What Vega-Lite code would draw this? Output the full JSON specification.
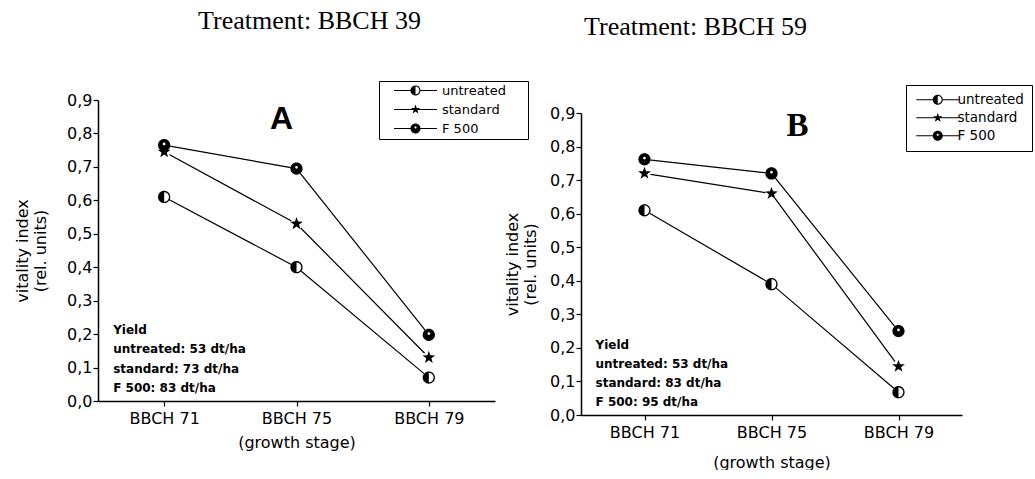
{
  "$schema": "https://vega.github.io/schema/vega-lite/v6.json",
  "background": "white",
  "padding": {"left": 14, "top": 7, "right": 0, "bottom": 0},
  "spacing": -25,
  "resolve": {"scale": {"shape": "independent"}, "legend": {"shape": "independent"}},
  "datasets": {
    "a": [
      {"stage": "BBCH 71", "series": "untreated", "v": 0.61},
      {"stage": "BBCH 75", "series": "untreated", "v": 0.4},
      {"stage": "BBCH 79", "series": "untreated", "v": 0.07},
      {"stage": "BBCH 71", "series": "standard", "v": 0.745},
      {"stage": "BBCH 75", "series": "standard", "v": 0.53},
      {"stage": "BBCH 79", "series": "standard", "v": 0.13},
      {"stage": "BBCH 71", "series": "F 500", "v": 0.765},
      {"stage": "BBCH 75", "series": "F 500", "v": 0.695},
      {"stage": "BBCH 79", "series": "F 500", "v": 0.198}
    ],
    "b": [
      {"stage": "BBCH 71", "series": "untreated", "v": 0.61},
      {"stage": "BBCH 75", "series": "untreated", "v": 0.39},
      {"stage": "BBCH 79", "series": "untreated", "v": 0.068},
      {"stage": "BBCH 71", "series": "standard", "v": 0.72},
      {"stage": "BBCH 75", "series": "standard", "v": 0.66},
      {"stage": "BBCH 79", "series": "standard", "v": 0.145},
      {"stage": "BBCH 71", "series": "F 500", "v": 0.762},
      {"stage": "BBCH 75", "series": "F 500", "v": 0.72},
      {"stage": "BBCH 79", "series": "F 500", "v": 0.25}
    ],
    "notesA": [
      {"stage": "BBCH 71", "v": 0, "lines": ["Yield", "untreated: 53 dt/ha", "standard: 73 dt/ha", "F 500: 83 dt/ha"]}
    ],
    "notesB": [
      {"stage": "BBCH 71", "v": 0, "lines": ["Yield", "untreated: 53 dt/ha", "standard: 83 dt/ha", "F 500: 95 dt/ha"]}
    ],
    "tagA": [{"stage": "BBCH 75", "v": 0.9, "tag": "A"}],
    "tagB": [{"stage": "BBCH 75", "v": 0.9, "tag": "B"}]
  },
  "hconcat": [
    {
      "width": 397,
      "height": 301,
      "title": {"text": "Treatment: BBCH 39", "anchor": "start", "frame": "group", "dx": 100, "offset": 47},
      "data": {"name": "a"},
      "encoding": {
        "x": {"field": "stage", "type": "ordinal", "sort": ["BBCH 71", "BBCH 75", "BBCH 79"],
              "scale": {"type": "point", "padding": 0.5},
              "axis": {"title": "(growth stage)", "labelAngle": 0, "labelPadding": 4, "titlePadding": 8}},
        "y": {"field": "v", "type": "quantitative", "scale": {"domain": [0, 0.9], "nice": false},
              "axis": {"values": [0, 0.1, 0.2, 0.3, 0.4, 0.5, 0.6, 0.7, 0.8, 0.9],
                       "labelExpr": "replace(format(datum.value, '.1f'), '.', ',')",
                       "title": ["vitality index", "(rel. units)"], "titleLineHeight": 18, "titlePadding": 18, "labelPadding": 1}}
      },
      "layer": [
        {"mark": {"type": "line", "color": "black", "strokeWidth": 1.2}, "encoding": {"detail": {"field": "series"}}},
        {"mark": {"type": "point", "shape": "circle", "filled": true, "color": "white", "opacity": 1, "size": 150}},
        {"transform": [{"filter": "datum.series === 'untreated'"}],
         "mark": {"type": "point", "filled": true, "color": "black", "opacity": 1, "size": 150,
                  "shape": "M-1,0A1,1,0,1,1,1,0A1,1,0,1,1,-1,0ZM-0.78,0A0.78,0.78,0,1,0,0.78,0A0.78,0.78,0,1,0,-0.78,0ZM0,-0.8L0,0.8A0.8,0.8,0,0,1,0,-0.8Z"}},
        {"transform": [{"filter": "datum.series === 'standard'"}],
         "mark": {"type": "point", "filled": true, "color": "black", "opacity": 1, "size": 180,
                  "shape": "M0,-1L0.235,-0.324L0.951,-0.309L0.38,0.124L0.588,0.809L0,0.4L-0.588,0.809L-0.38,0.124L-0.951,-0.309L-0.235,-0.324Z"}},
        {"transform": [{"filter": "datum.series === 'F 500'"}],
         "mark": {"type": "point", "filled": true, "color": "black", "opacity": 1, "size": 150,
                  "shape": "M-1,0A1,1,0,1,1,1,0A1,1,0,1,1,-1,0ZM-0.22,-0.2A0.22,0.22,0,1,0,0.22,-0.2A0.22,0.22,0,1,0,-0.22,-0.2Z"}},
        {"mark": {"type": "point", "filled": true, "color": "black", "opacity": 0},
         "encoding": {"shape": {"field": "series", "type": "nominal",
           "scale": {"domain": ["untreated", "standard", "F 500"],
                     "range": [
                       "M-1,0A1,1,0,1,1,1,0A1,1,0,1,1,-1,0ZM-0.78,0A0.78,0.78,0,1,0,0.78,0A0.78,0.78,0,1,0,-0.78,0ZM0,-0.8L0,0.8A0.8,0.8,0,0,1,0,-0.8ZM-4.3,-0.1L-0.97,-0.1L-0.97,0.1L-4.3,0.1ZM0.97,-0.1L4.3,-0.1L4.3,0.1L0.97,0.1Z",
                       "M0,-1L0.235,-0.324L0.951,-0.309L0.38,0.124L0.588,0.809L0,0.4L-0.588,0.809L-0.38,0.124L-0.951,-0.309L-0.235,-0.324ZM-4.3,-0.1L-0.5,-0.1L-0.5,0.1L-4.3,0.1ZM0.5,-0.1L4.3,-0.1L4.3,0.1L0.5,0.1Z",
                       "M-1,0A1,1,0,1,1,1,0A1,1,0,1,1,-1,0ZM-0.22,-0.2A0.22,0.22,0,1,0,0.22,-0.2A0.22,0.22,0,1,0,-0.22,-0.2ZM-4.3,-0.1L-0.97,-0.1L-0.97,0.1L-4.3,0.1ZM0.97,-0.1L4.3,-0.1L4.3,0.1L0.97,0.1Z"
                     ]},
           "legend": {"orient": "none", "legendX": 281, "legendY": -19, "title": null,
                      "strokeColor": "black", "padding": 3, "labelFontSize": 13,
                      "symbolSize": 100, "symbolOffset": 27, "labelOffset": 20, "rowPadding": 5,
                      "symbolFillColor": "black", "symbolStrokeWidth": 0, "symbolOpacity": 1,
                      "labelExpr": "datum.label + '\u2800\u2800'"}}}},
        {"data": {"name": "notesA"},
         "mark": {"type": "text", "align": "left", "baseline": "alphabetic", "font": "DejaVu Sans", "fontWeight": "bold", "fontSize": 12, "lineHeight": 19.3, "dx": -51, "dy": -67, "color": "black"},
         "encoding": {"text": {"field": "lines"}}},
        {"data": {"name": "tagA"},
         "mark": {"type": "text", "align": "center", "baseline": "alphabetic", "font": "Liberation Sans", "fontWeight": "bold", "fontSize": 32, "dx": -15, "dy": 29, "color": "black"},
         "encoding": {"text": {"field": "tag"}}}
      ]
    },
    {
      "width": 381,
      "height": 315,
      "title": {"text": "Treatment: BBCH 59", "anchor": "start", "frame": "group", "dx": 3, "offset": 45},
      "data": {"name": "b"},
      "encoding": {
        "x": {"field": "stage", "type": "ordinal", "sort": ["BBCH 71", "BBCH 75", "BBCH 79"],
              "scale": {"type": "point", "padding": 0.5},
              "axis": {"title": "(growth stage)", "labelAngle": 0, "labelPadding": 4, "titlePadding": 14}},
        "y": {"field": "v", "type": "quantitative", "scale": {"domain": [0, 0.9], "nice": false, "range": [315, 13]},
              "axis": {"values": [0, 0.1, 0.2, 0.3, 0.4, 0.5, 0.6, 0.7, 0.8, 0.9],
                       "labelExpr": "replace(format(datum.value, '.1f'), '.', ',')",
                       "title": ["vitality index", "(rel. units)"], "titleLineHeight": 18, "titlePadding": 11, "labelPadding": 1}}
      },
      "layer": [
        {"mark": {"type": "line", "color": "black", "strokeWidth": 1.2}, "encoding": {"detail": {"field": "series"}}},
        {"mark": {"type": "point", "shape": "circle", "filled": true, "color": "white", "opacity": 1, "size": 150}},
        {"transform": [{"filter": "datum.series === 'untreated'"}],
         "mark": {"type": "point", "filled": true, "color": "black", "opacity": 1, "size": 150,
                  "shape": "M-1,0A1,1,0,1,1,1,0A1,1,0,1,1,-1,0ZM-0.78,0A0.78,0.78,0,1,0,0.78,0A0.78,0.78,0,1,0,-0.78,0ZM0,-0.8L0,0.8A0.8,0.8,0,0,1,0,-0.8Z"}},
        {"transform": [{"filter": "datum.series === 'standard'"}],
         "mark": {"type": "point", "filled": true, "color": "black", "opacity": 1, "size": 180,
                  "shape": "M0,-1L0.235,-0.324L0.951,-0.309L0.38,0.124L0.588,0.809L0,0.4L-0.588,0.809L-0.38,0.124L-0.951,-0.309L-0.235,-0.324Z"}},
        {"transform": [{"filter": "datum.series === 'F 500'"}],
         "mark": {"type": "point", "filled": true, "color": "black", "opacity": 1, "size": 150,
                  "shape": "M-1,0A1,1,0,1,1,1,0A1,1,0,1,1,-1,0ZM-0.22,-0.2A0.22,0.22,0,1,0,0.22,-0.2A0.22,0.22,0,1,0,-0.22,-0.2Z"}},
        {"mark": {"type": "point", "filled": true, "color": "black", "opacity": 0},
         "encoding": {"shape": {"field": "series", "type": "nominal",
           "scale": {"domain": ["untreated", "standard", "F 500"],
                     "range": [
                       "M-1,0A1,1,0,1,1,1,0A1,1,0,1,1,-1,0ZM-0.78,0A0.78,0.78,0,1,0,0.78,0A0.78,0.78,0,1,0,-0.78,0ZM0,-0.8L0,0.8A0.8,0.8,0,0,1,0,-0.8ZM-4.3,-0.1L-0.97,-0.1L-0.97,0.1L-4.3,0.1ZM0.97,-0.1L4.3,-0.1L4.3,0.1L0.97,0.1Z",
                       "M0,-1L0.235,-0.324L0.951,-0.309L0.38,0.124L0.588,0.809L0,0.4L-0.588,0.809L-0.38,0.124L-0.951,-0.309L-0.235,-0.324ZM-4.3,-0.1L-0.5,-0.1L-0.5,0.1L-4.3,0.1ZM0.5,-0.1L4.3,-0.1L4.3,0.1L0.5,0.1Z",
                       "M-1,0A1,1,0,1,1,1,0A1,1,0,1,1,-1,0ZM-0.22,-0.2A0.22,0.22,0,1,0,0.22,-0.2A0.22,0.22,0,1,0,-0.22,-0.2ZM-4.3,-0.1L-0.97,-0.1L-0.97,0.1L-4.3,0.1ZM0.97,-0.1L4.3,-0.1L4.3,0.1L0.97,0.1Z"
                     ]},
           "legend": {"orient": "none", "legendX": 325, "legendY": -15, "title": null,
                      "strokeColor": "black", "padding": 8, "labelFontSize": 13.5,
                      "symbolSize": 100, "symbolOffset": 17, "labelOffset": 13, "rowPadding": 3,
                      "symbolFillColor": "black", "symbolStrokeWidth": 0, "symbolOpacity": 1}}}},
        {"data": {"name": "notesB"},
         "mark": {"type": "text", "align": "left", "baseline": "alphabetic", "font": "DejaVu Sans", "fontWeight": "bold", "fontSize": 12, "lineHeight": 19, "dx": -49, "dy": -66, "color": "black"},
         "encoding": {"text": {"field": "lines"}}},
        {"data": {"name": "tagB"},
         "mark": {"type": "text", "align": "center", "baseline": "alphabetic", "font": "Liberation Serif", "fontWeight": "bold", "fontSize": 33, "dx": 26, "dy": 23, "color": "black"},
         "encoding": {"text": {"field": "tag"}}}
      ]
    }
  ],
  "config": {
    "view": {"stroke": null},
    "axis": {"grid": false, "domainColor": "black", "tickColor": "black", "labelColor": "black", "titleColor": "black",
             "labelFont": "DejaVu Sans", "titleFont": "DejaVu Sans", "titleFontWeight": "normal",
             "labelFontSize": 16, "titleFontSize": 16, "domainWidth": 1.5, "tickWidth": 1.2, "tickSize": 5},
    "legend": {"labelFont": "DejaVu Sans", "labelColor": "black", "strokeWidth": 1},
    "title": {"font": "Liberation Serif", "fontSize": 26, "fontWeight": "normal", "color": "black"}
  }
}
